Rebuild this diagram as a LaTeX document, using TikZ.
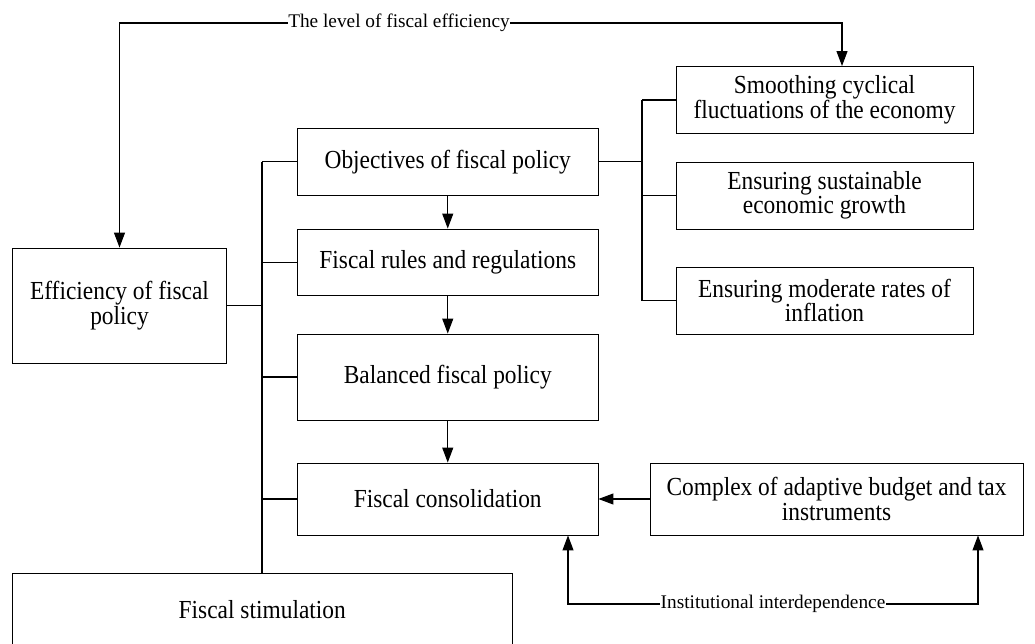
\documentclass[tikz,border=0pt]{standalone}
\usepackage{fontspec}
\setmainfont{Liberation Serif}
\newfontfamily\boxfont{Liberation Serif}[FakeStretch=0.9]
\usetikzlibrary{arrows.meta,calc}
\begin{document}
\begin{tikzpicture}[x=1pt,y=-1pt,
  box/.style={draw=black,line width=0.9pt,align=center,inner sep=0pt,font=\boxfont\fontsize{26}{24.5}\selectfont},
  conn/.style={line width=1.1pt},
  arr/.style={line width=1.1pt,-{Triangle[length=15pt,width=11pt]}},
  lbl/.style={fill=white,inner sep=0.5pt,font=\fontsize{19.3}{20}\selectfont}]
\useasboundingbox (0,0) rectangle (1035,644);
\clip (0,0) rectangle (1035,644);
\node[box,minimum width=214pt,minimum height=115pt] (eff) at (119.5,305.5) {Efficiency of fiscal\\policy};
\node[box,minimum width=300.5pt,minimum height=66.5pt] (obj) at (447.75,161.75) {Objectives of fiscal policy};
\node[box,minimum width=300.5pt,minimum height=66.5pt] (rules) at (447.75,262.25) {Fiscal rules and regulations};
\node[box,minimum width=300.5pt,minimum height=86pt] (bal) at (447.75,377) {Balanced fiscal policy};
\node[box,minimum width=300.5pt,minimum height=72pt] (cons) at (447.75,499) {Fiscal consolidation};
\node[box,minimum width=499.5pt,minimum height=73pt] (stim) at (262.25,609.5) {Fiscal stimulation};
\node[box,minimum width=297pt,minimum height=67pt] (smooth) at (824.5,100) {Smoothing cyclical\\fluctuations of the economy};
\node[box,minimum width=297pt,minimum height=67pt] (sust) at (824.5,195.5) {Ensuring sustainable\\economic growth};
\node[box,minimum width=297pt,minimum height=67pt] (infl) at (824.5,300.5) {Ensuring moderate rates of\\inflation};
\node[box,minimum width=373pt,minimum height=72pt] (cplx) at (836.5,499) {Complex of adaptive budget and tax\\instruments};
% left bus
\coordinate (lb) at (262,162);
\draw[conn] (lb) -- (lb |- stim.north);
\draw[conn] (obj.west) -- (lb |- obj.west);
\draw[conn] (rules.west) -- (lb |- rules.west);
\draw[conn] (bal.west) -- (lb |- bal.west);
\draw[conn] (cons.west) -- (lb |- cons.west);
\draw[conn] (eff.east) -- (lb |- eff.east);
% right bus
\coordinate (rb) at (642,100);
\draw[conn] (rb |- smooth.west) -- (rb |- infl.west);
\draw[conn] (obj.east) -- (rb |- obj.east);
\draw[conn] (rb |- smooth.west) -- (smooth.west);
\draw[conn] (rb |- sust.west) -- (sust.west);
\draw[conn] (rb |- infl.west) -- (infl.west);
% vertical arrows
\draw[arr] (obj.south) -- (rules.north);
\draw[arr] (rules.south) -- (bal.north);
\draw[arr] (bal.south) -- (cons.north);
\draw[arr] (cplx.west) -- (cons.east);
% top feedback
\node[lbl] (lvl) at (399,23) {The level of fiscal efficiency};
\coordinate (tr) at (842,23);
\draw[arr] (lvl.west) -| (eff.north);
\draw[arr] (lvl.east) -- (tr) -- (tr |- smooth.north);
% bottom link
\node[lbl] (inst) at (773,604) {Institutional interdependence};
\coordinate (bl) at (568,604);
\coordinate (br) at (978,604);
\draw[arr] (inst.west) -- (bl) -- (bl |- cons.south);
\draw[arr] (inst.east) -- (br) -- (br |- cplx.south);
\end{tikzpicture}
\end{document}
